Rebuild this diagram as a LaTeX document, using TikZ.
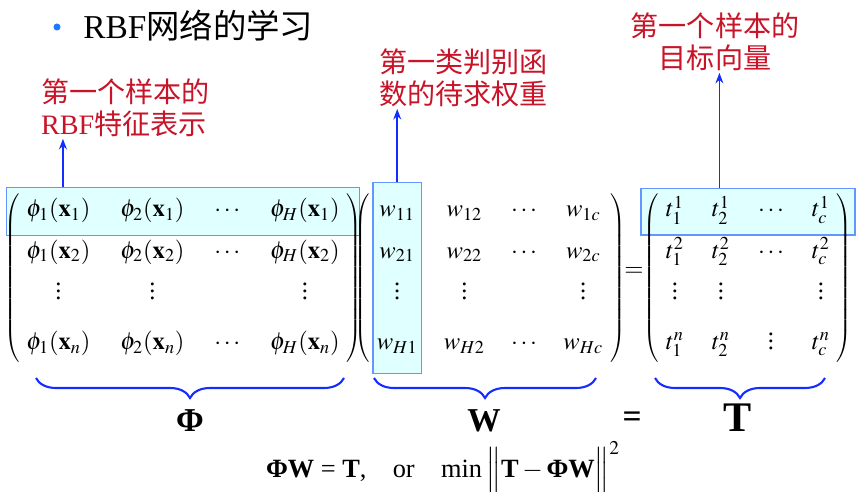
\documentclass[tikz,border=0pt]{standalone}
\usepackage{mathptmx}
\usepackage{fontspec}
\setmainfont{Liberation Serif}
\newfontfamily\cjk{Noto Sans CJK SC}
\usetikzlibrary{matrix,fit,backgrounds,decorations.pathreplacing,arrows.meta}
\definecolor{cred}{RGB}{200,20,40}
\definecolor{cblue}{RGB}{20,45,255}
\definecolor{cbullet}{RGB}{30,120,255}
\definecolor{chl}{RGB}{100,150,255}
\definecolor{chlfill}{RGB}{224,255,255}

\begin{document}
\begin{tikzpicture}[x=0.02cm, y=0.02cm,
      mat/.style={matrix of math nodes, left delimiter=(, right delimiter=), row sep=5.5pt, inner sep=1.5pt,
                  nodes={font=\fontsize{14}{16}\selectfont, text height=11pt, text depth=5pt, inner sep=1pt}},
      hlbox/.style={draw=chl, fill=chlfill, line width=0.8pt},
      arrow/.style={-{Stealth[length=6pt,width=4.5pt]}, line width=1pt, cblue},
      brace/.style={decorate, decoration={brace, mirror, amplitude=0.4cm}, line width=1.2pt, cblue},
      note/.style={font=\fontsize{16}{18}\selectfont\cjk, text=cred, inner sep=1pt},
      big/.style={font=\fontsize{19}{22}\selectfont\bfseries}
    ]
    \useasboundingbox (0,0) rectangle (857,-492);
    \fill[cbullet] (57,-27) circle[radius=0.07cm];
    \node[anchor=west, inner sep=0pt, font=\fontsize{19}{21}\selectfont] (title) at (83,-26) {RBF{\cjk 网络的学习}};

    \matrix (Phi) [mat, column sep=15pt] at (183,-278) {
      \phi_1(\mathbf{x}_1) & \phi_2(\mathbf{x}_1) & \cdots & \phi_H(\mathbf{x}_1) \\
      \phi_1(\mathbf{x}_2) & \phi_2(\mathbf{x}_2) & \cdots & \phi_H(\mathbf{x}_2) \\
      \vdots & \vdots & & \vdots \\[5pt]
      \phi_1(\mathbf{x}_n) & \phi_2(\mathbf{x}_n) & \cdots & \phi_H(\mathbf{x}_n) \\
    };
    \matrix (W) [mat, column sep=13pt] at (490,-278) {
      w_{11} & w_{12} & \cdots & w_{1c} \\
      w_{21} & w_{22} & \cdots & w_{2c} \\
      \vdots & \vdots & & \vdots \\[5pt]
      w_{H1} & w_{H2} & \cdots & w_{Hc} \\
    };
    \node[font=\fontsize{14}{16}\selectfont, inner sep=0pt] (eqm) at (634,-272) {$=$};
    \matrix (T) [mat, column sep=14pt] at (748,-278) {
      t_1^1 & t_2^1 & \cdots & t_c^1 \\
      t_1^2 & t_2^2 & \cdots & t_c^2 \\
      \vdots & \vdots & & \vdots \\[5pt]
      t_1^n & t_2^n & \vdots & t_c^n \\
    };

    \begin{scope}[on background layer]
      \node[hlbox, fit=(Phi-1-1)(Phi-1-4), inner xsep=10pt, inner ysep=4.5pt] (rowPhi) {};
      \node[hlbox, fit=(W-1-1)(W-4-1), inner xsep=1pt, inner ysep=7.5pt] (colW) {};
      \node[hlbox, fit=(T-1-1)(T-1-4), inner xsep=13pt, inner ysep=4pt] (rowT) {};
    \end{scope}

    \node[note, anchor=north west, align=left] (lblPhi) at (39,-77) {第一个样本的\\{\rmfamily RBF}特征表示};
    \node[note, anchor=north west, align=left] (lblW) at (377,-47) {第一类判别函\\数的待求权重};
    \node[note, anchor=north, align=center] (lblT) at (715,-11) {第一个样本的\\目标向量};

    \coordinate (aPhi) at ([xshift=1.14cm]rowPhi.north west);
    \coordinate (aT) at ([xshift=1.58cm]rowT.north west);
    \draw[arrow] (aPhi) -- (aPhi |- lblPhi.south);
    \draw[arrow] (colW.north) -- (colW.north |- lblW.south);
    \draw[arrow] (aT) -- (aT |- lblT.south);

    \draw[brace] (36,-378) -- (344,-378);
    \draw[brace] (374,-378) -- (596,-378);
    \draw[brace] (655,-378) -- (825,-378);
    \node[big] (symPhi) at (190,-421) {Φ};
    \node[big] (symW) at (484,-421) {W};
    \node[big] (symEq) at (632,-420) {=};
    \node[big, font=\fontsize{24}{26}\selectfont\bfseries] (symT) at (738,-418) {T};

    \node[font=\fontsize{15}{17}\selectfont] (goal) at (443,-468)
      {\textbf{ΦW} = \textbf{T},\quad or\quad min\,$\Bigl\|\mbox{\textbf{T}}-\mbox{\textbf{ΦW}}\Bigr\|^2$};
\end{tikzpicture}
\end{document}
